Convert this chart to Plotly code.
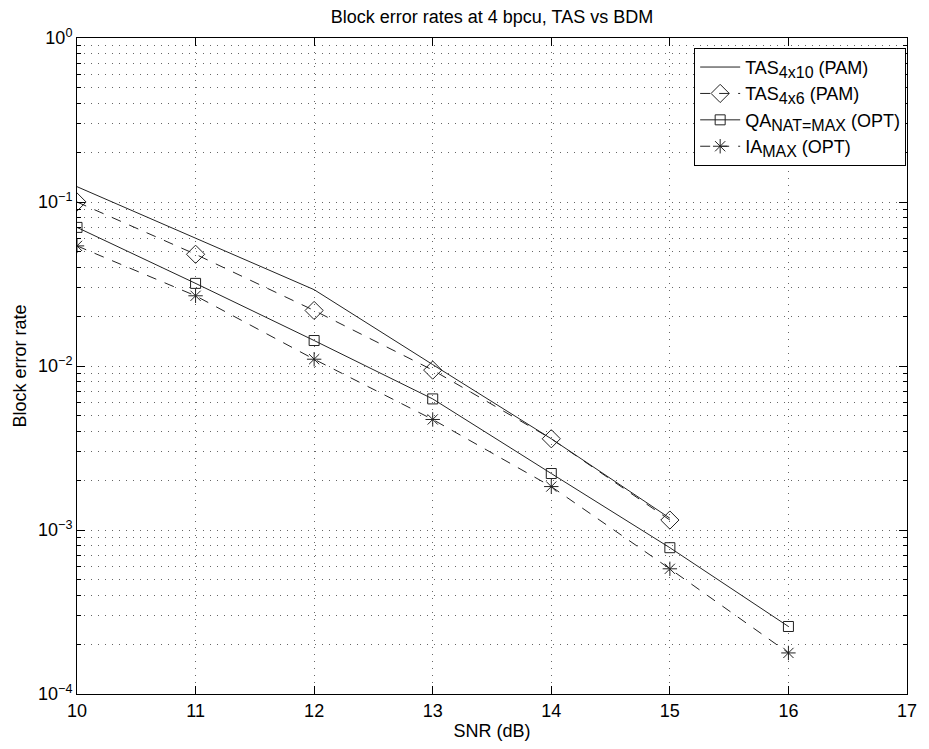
import plotly.graph_objects as go

# SNR points (dB)
snr = [10, 11, 12, 13, 14, 15, 16]

# Block error rates per scheme
tas_4x10 = [0.124, 0.060, 0.0292, 0.0102, 0.0036, 0.00118]
tas_4x6 = [0.100, 0.048, 0.0218, 0.00944, 0.0036, 0.00115]
qa_nat = [0.070, 0.0319, 0.0143, 0.0063, 0.00221, 0.00078, 0.000258]
ia_max = [0.054, 0.0268, 0.0110, 0.00472, 0.00184, 0.00058, 0.000178]

y_tickvals = [1e-4, 1e-3, 1e-2, 1e-1, 1]
y_ticktext = ["10<sup>\u22124</sup>", "10<sup>\u22123</sup>", "10<sup>\u22122</sup>",
              "10<sup>\u22121</sup>", "10<sup>0</sup>"]
# minor decade positions 2..9 x 10^k
y_minor = [m * 10.0 ** k for k in range(-4, 0) for m in range(2, 10)]

FONT = "Liberation Sans, Arial, sans-serif"
ink = "#222222"


def sub(text):
    """Subscript kept close to body size."""
    return "<sub><span style='font-size:16px'>" + text + "</span></sub>"


fig = go.Figure()
fig.add_trace(go.Scatter(
    x=snr[:len(tas_4x10)], y=tas_4x10, mode="lines",
    name="TAS" + sub("4x10") + " (PAM)",
    line=dict(color=ink, width=1),
))
fig.add_trace(go.Scatter(
    x=snr[:len(tas_4x6)], y=tas_4x6, mode="lines+markers",
    name="TAS" + sub("4x6") + " (PAM)",
    line=dict(color=ink, width=1, dash="10px,9px"),
    marker=dict(symbol="diamond-open", size=14, color=ink, line=dict(width=1)),
))
fig.add_trace(go.Scatter(
    x=snr[:len(qa_nat)], y=qa_nat, mode="lines+markers",
    name="QA" + sub("NAT=MAX") + " (OPT)",
    line=dict(color=ink, width=1),
    marker=dict(symbol="square-open", size=10, color=ink, line=dict(width=1)),
))
fig.add_trace(go.Scatter(
    x=snr[:len(ia_max)], y=ia_max, mode="lines+markers",
    name="IA" + sub("MAX") + " (OPT)",
    line=dict(color=ink, width=1, dash="10px,9px"),
    marker=dict(symbol="asterisk-open", size=12, color=ink, line=dict(width=1, color=ink)),
))

grid_common = dict(gridcolor="#666666", griddash="1px,6px", gridwidth=1)

fig.update_layout(
    width=929, height=749,
    margin=dict(l=77, r=12, t=38, b=50),
    paper_bgcolor="white", plot_bgcolor="white",
    font=dict(family=FONT, size=18, color="black"),
    title=dict(text="Block error rates at 4 bpcu, TAS vs BDM",
               x=0.5, xanchor="center", xref="paper",
               y=1 - 17 / 749, yanchor="middle",
               font=dict(size=18)),
    showlegend=True,
    legend=dict(
        x=0.999, y=0.985, xanchor="right", yanchor="top",
        bgcolor="white", bordercolor="black", borderwidth=1,
        font=dict(size=18), tracegroupgap=0,
        itemwidth=40,
    ),
    xaxis=dict(
        range=[10, 17], dtick=1, tick0=10,
        showline=True, linecolor="black", linewidth=1, mirror="allticks",
        ticks="inside", ticklen=8, tickcolor="black",
        showgrid=True, **grid_common, zeroline=False,
        title=dict(text="SNR (dB)", standoff=4, font=dict(size=18)),
        tickfont=dict(size=18),
    ),
    yaxis=dict(
        type="log", range=[-4, 0],
        tickvals=y_tickvals, ticktext=y_ticktext,
        showline=True, linecolor="black", linewidth=1, mirror="allticks",
        ticks="inside", ticklen=8, tickcolor="black",
        showgrid=True, **grid_common, zeroline=False,
        minor=dict(tickvals=y_minor, ticks="inside", ticklen=4, tickcolor="black",
                   showgrid=True, **grid_common),
        title=dict(text="Block error rate", standoff=6, font=dict(size=18)),
        tickfont=dict(size=18),
    ),
)

fig.write_html("out.html")
